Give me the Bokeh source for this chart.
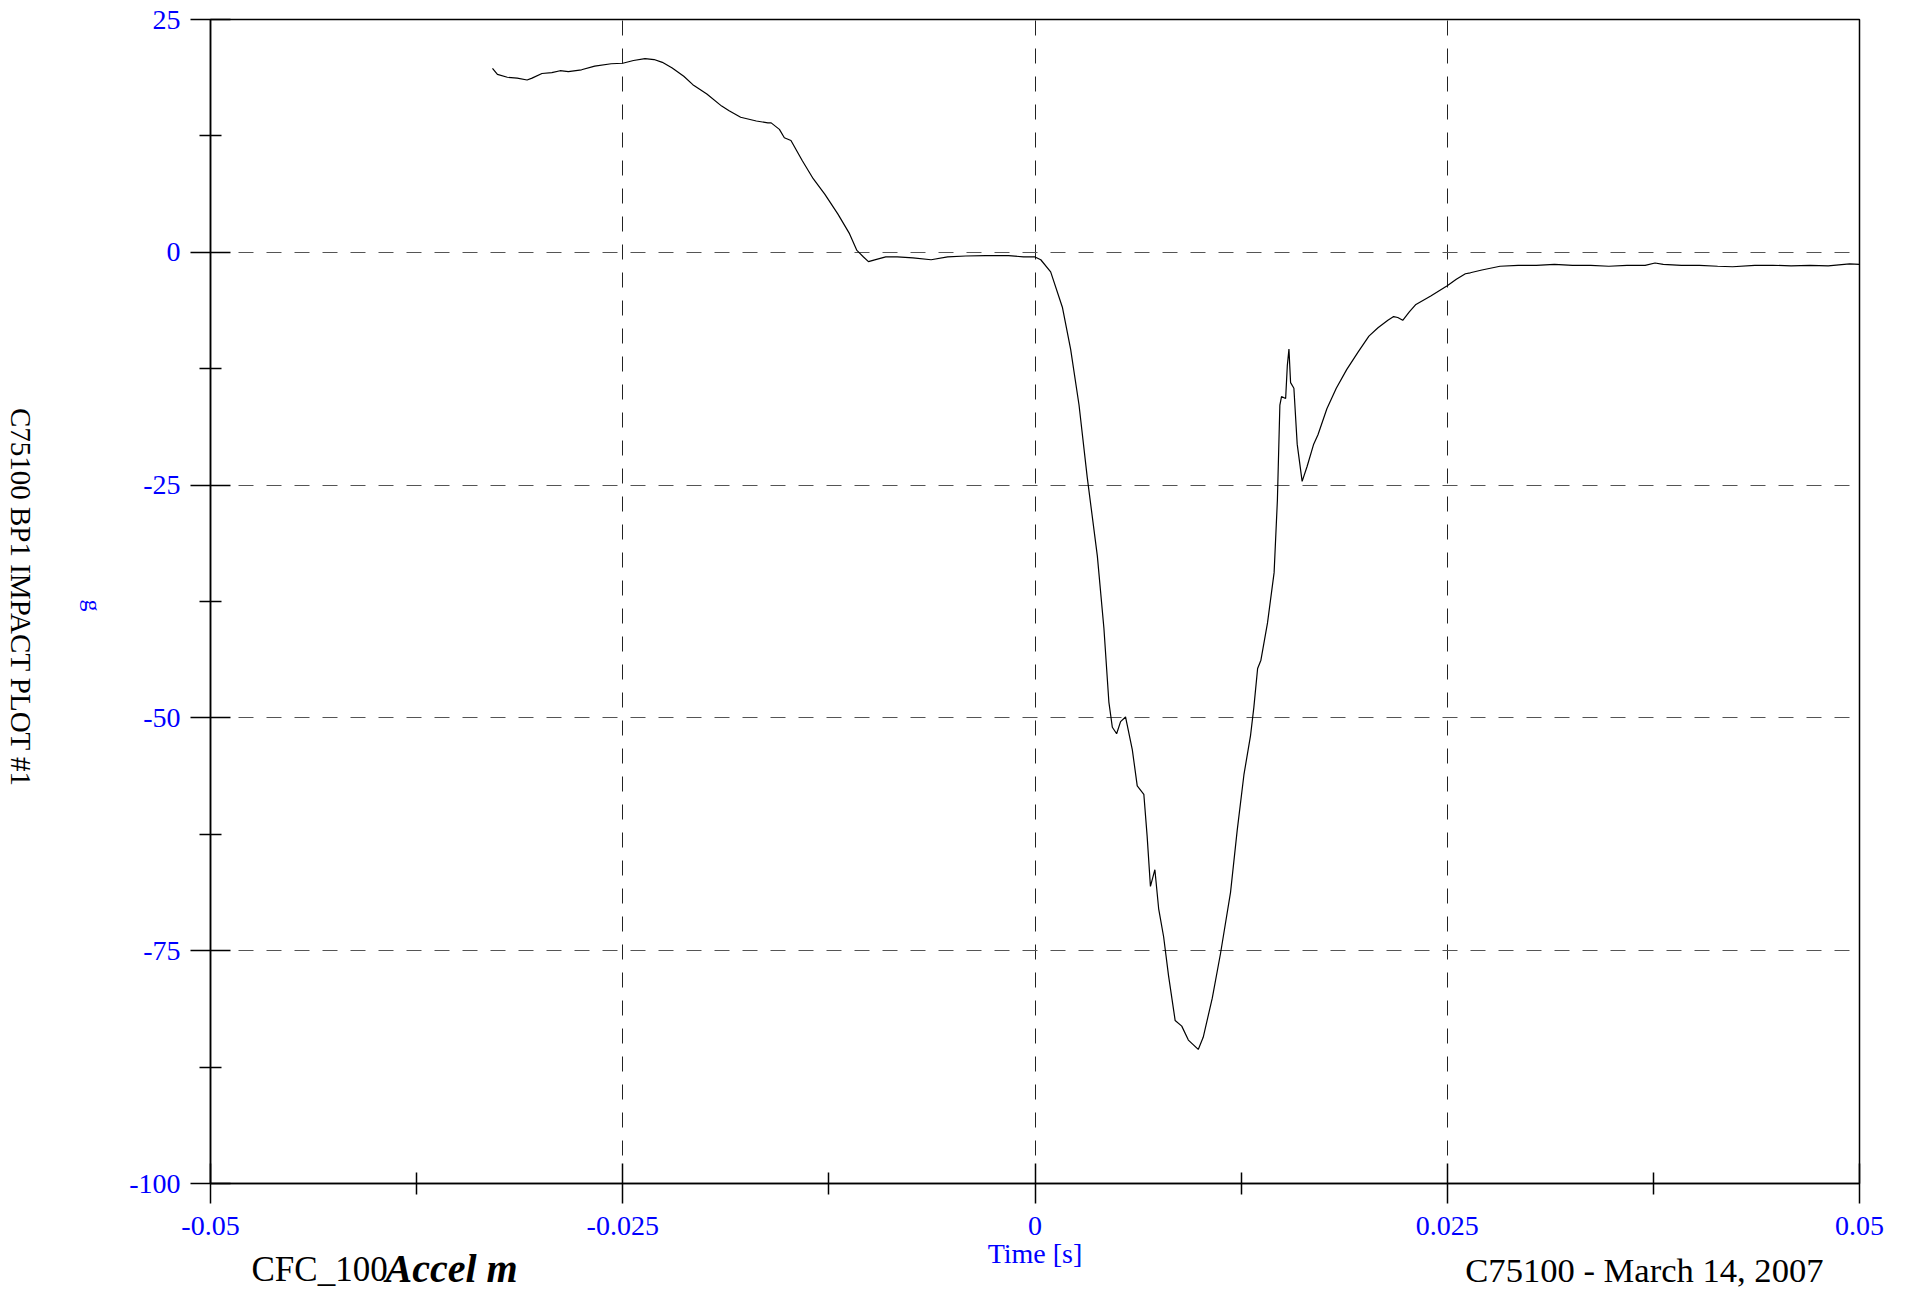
import math
from bokeh.plotting import figure
from bokeh.models import Range1d, FixedTicker, Label, CustomJSTickFormatter
from bokeh.embed import file_html
from bokeh.resources import INLINE

# ---- data (time in ms, acceleration in g) ----
time_ms = [
    -32.9, -32.6, -32.0, -31.4, -30.8, -30.5, -29.9, -29.3, -28.8, -28.3,
    -27.5, -26.7, -25.7, -25.0, -24.35, -23.65, -23.1, -22.6, -22.0, -21.3,
    -20.75, -19.9, -19.0, -18.55, -17.85, -16.9, -16.2, -16.0, -15.5, -15.2,
    -14.8, -14.1, -13.45, -12.75, -11.95, -11.25, -10.8, -10.4, -10.1, -9.5,
    -9.05, -8.35, -7.4, -6.3, -5.3, -4.2, -3.0, -1.6, -0.7, 0.0,
    0.35, 0.95, 1.66, 2.16, 2.67, 3.17, 3.78, 4.18, 4.48, 4.69,
    4.95, 5.19, 5.49, 5.9, 6.2, 6.6, 6.8, 7.0, 7.27, 7.5,
    7.8, 8.1, 8.5, 8.9, 9.3, 9.9, 10.2, 10.75, 11.25, 11.86,
    12.26, 12.67, 13.07, 13.27, 13.5, 13.7, 14.1, 14.5, 14.7, 14.85,
    14.95, 15.2, 15.3, 15.4, 15.5, 15.7, 15.9, 16.2, 16.5, 16.9,
    17.16, 17.7, 18.27, 18.9, 19.6, 20.25, 20.8, 21.4, 21.75, 22.0,
    22.3, 22.7, 23.1, 24.0, 25.0, 25.55, 26.1, 26.4, 27.1, 28.2,
    29.3, 30.4, 31.5, 32.6, 33.7, 34.8, 35.9, 37.0, 37.6, 38.1,
    39.2, 40.3, 41.4, 42.3, 43.65, 44.75, 45.85, 47.0, 48.1, 49.4,
    50.0,
]
accel_g = [
    19.75, 19.1, 18.8, 18.7, 18.5, 18.7, 19.2, 19.3, 19.5, 19.4,
    19.6, 20.0, 20.25, 20.3, 20.6, 20.8, 20.7, 20.4, 19.8, 18.9,
    18.0, 17.0, 15.7, 15.2, 14.5, 14.1, 13.9, 13.9, 13.2, 12.3,
    12.0, 9.8, 7.9, 6.25, 4.1, 2.0, 0.2, -0.5, -1.0, -0.7,
    -0.5, -0.5, -0.6, -0.8, -0.5, -0.4, -0.35, -0.35, -0.5, -0.5,
    -0.8, -2.1, -5.9, -10.4, -16.4, -24.2, -32.6, -40.4, -48.3, -51.0,
    -51.7, -50.4, -49.9, -53.4, -57.3, -58.2, -62.7, -68.1, -66.3, -70.5,
    -73.5, -77.7, -82.5, -83.1, -84.6, -85.6, -84.3, -80.1, -75.3, -68.7,
    -62.1, -56.1, -51.9, -48.9, -44.7, -43.8, -39.8, -34.4, -26.6, -16.4,
    -15.5, -15.7, -12.2, -10.4, -14.0, -14.6, -20.6, -24.6, -23.0, -20.6,
    -19.6, -16.8, -14.6, -12.6, -10.7, -9.0, -8.1, -7.3, -6.9, -7.0,
    -7.3, -6.4, -5.6, -4.7, -3.6, -2.9, -2.3, -2.2, -1.9, -1.5,
    -1.4, -1.4, -1.3, -1.4, -1.4, -1.5, -1.4, -1.4, -1.15, -1.3,
    -1.4, -1.4, -1.5, -1.55, -1.4, -1.4, -1.45, -1.4, -1.45, -1.25,
    -1.3,
]
time_s = [t / 1000.0 for t in time_ms]

x_ticks = [-0.05, -0.025, 0, 0.025, 0.05]
x_minor = [-0.0375, -0.0125, 0.0125, 0.0375]
y_ticks = [25, 0, -25, -50, -75, -100]
y_minor = [12.5, -12.5, -37.5, -62.5, -87.5]

title_text = "C75100 BP1 IMPACT PLOT #1"
x_label = "Time [s]"
y_label = "g"
filter_text = "CFC_100"
channel_text = "Accel m"
date_text = "C75100 - March 14, 2007"

FONT = "Liberation Serif"
BLUE = "#0000ff"

# ---- geometry (pixels) ----
FW, FH = 1649, 1164   # plot frame
B_LEFT, B_TOP, B_RIGHT, B_BOTTOM = 210, 19, 40, 80
PAGE_W, PAGE_H = 1901, 1292

# ---- main plot ----
p = figure(
    frame_width=FW, frame_height=FH,
    min_border_left=B_LEFT, min_border_right=B_RIGHT,
    min_border_top=B_TOP, min_border_bottom=B_BOTTOM,
    x_range=Range1d(-0.05, 0.05), y_range=Range1d(-100, 25),
    output_backend="svg", toolbar_location=None,
    background_fill_color="white", border_fill_color="white",
)
p.outline_line_color = "black"
p.outline_line_width = 1.5

p.line(time_s, accel_g, line_color="black", line_width=1.2)

fmt = CustomJSTickFormatter(code="return String(tick);")
for ax, ticks, minor in ((p.xaxis[0], x_ticks, x_minor), (p.yaxis[0], y_ticks, y_minor)):
    ax.ticker = FixedTicker(ticks=ticks, minor_ticks=minor)
    ax.formatter = fmt
    ax.axis_line_color = "black"
    ax.axis_line_width = 1.5
    ax.major_tick_line_color = "black"
    ax.major_tick_line_width = 1.5
    ax.minor_tick_line_color = "black"
    ax.minor_tick_line_width = 1.5
    ax.major_tick_in = 20
    ax.major_tick_out = 20
    ax.minor_tick_in = 11
    ax.minor_tick_out = 11
    ax.major_label_text_color = BLUE
    ax.major_label_text_font = FONT
    ax.major_label_text_font_size = "28px"
p.xaxis.major_label_standoff = 13
p.yaxis.major_label_standoff = 10

p.xgrid.ticker = FixedTicker(ticks=x_ticks)
p.ygrid.ticker = FixedTicker(ticks=y_ticks)
p.xgrid.grid_line_color = "#222222"
p.ygrid.grid_line_color = "#555555"
for g in (p.xgrid[0], p.ygrid[0]):
    g.grid_line_width = 1
    g.grid_line_dash = "15 13"

# ---- transparent text layer over the whole page (data units == page pixels) ----
txt = figure(
    width=PAGE_W, height=PAGE_H,
    min_border_left=0, min_border_right=0, min_border_top=0, min_border_bottom=0,
    x_range=Range1d(0, PAGE_W), y_range=Range1d(0, PAGE_H),
    x_axis_type=None, y_axis_type=None,
    output_backend="svg", toolbar_location=None,
    background_fill_color=None, border_fill_color=None,
)
txt.outline_line_color = None
txt.styles = {"position": "absolute", "top": "0px", "left": "0px"}


def add_label(text, page_x, page_y, size, color="black", align="left",
              angle=0.0, style="normal"):
    """page_y is the vertical centre of the text line"""
    txt.add_layout(Label(
        x=page_x, y=PAGE_H - page_y, text=text,
        text_font=FONT, text_font_size=size, text_color=color,
        text_align=align, text_baseline="middle", angle=angle,
        text_font_style=style,
    ))


x_zero = B_LEFT + FW / 2.0
add_label(title_text, 20, 597, "29px", align="center", angle=-math.pi / 2)
add_label(y_label, 92, 605, "24px", color=BLUE, align="center", angle=-math.pi / 2)
add_label(x_label, x_zero, 1252.5, "28px", color=BLUE, align="center")
add_label(filter_text, 251, 1269, "35px")
add_label(channel_text, 385, 1267.5, "40px", style="bold italic")
add_label(date_text, 1823, 1269.3, "34.6px", align="right")

open("out.html", "w").write(file_html([p, txt], INLINE))
